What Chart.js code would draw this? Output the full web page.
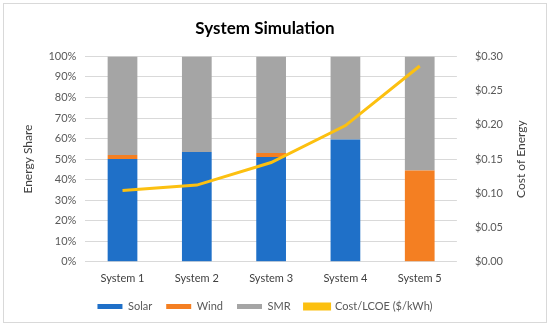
<!DOCTYPE html>
<html>
<head>
<meta charset="utf-8">
<script src="https://cdn.jsdelivr.net/npm/chart.js@4/dist/chart.umd.min.js"></script>
<style>
  html, body { margin: 0; padding: 0; background: #fff; }
  #wrap { position: absolute; left: 3px; top: 3px; width: 542px; height: 318px; border: 1px solid #d9d9d9; background: #fff; }
  canvas { position: absolute; left: -4px; top: -4px; }
</style>
</head>
<body>
<div id="wrap"><canvas id="chart" width="550" height="329"></canvas></div>
<script>
// Chart data
const systems = ['System 1', 'System 2', 'System 3', 'System 4', 'System 5'];
const solar = [50, 53.5, 51, 59.5, 0];
const wind = [2, 0, 2, 0, 44.5];
const smr = [48, 46.5, 47, 40.5, 55.5];
const lcoe = [0.104, 0.112, 0.145, 0.199, 0.286];

const shareTicks = [0, 10, 20, 30, 40, 50, 60, 70, 80, 90, 100];
const costTicks = [0, 0.05, 0.10, 0.15, 0.20, 0.25, 0.30];

const fontFamily = 'Lato, "Open Sans", sans-serif';
const tickColor = '#595959';

// right axis title reads bottom-to-top in the original, so draw it by hand
const rightTitle = {
    id: 'rightTitle',
    afterDraw(chart) {
        const c = chart.ctx;
        const area = chart.chartArea;
        c.save();
        c.translate(521, (area.top + area.bottom) / 2);
        c.rotate(-Math.PI / 2);
        c.fillStyle = '#404040';
        c.font = '12px ' + fontFamily;
        c.textAlign = 'center';
        c.textBaseline = 'middle';
        c.fillText('Cost of Energy', 0, 0);
        c.restore();
    }
};

const ctx = document.getElementById('chart').getContext('2d');
new Chart(ctx, {
    data: {
        labels: systems,
        datasets: [
            { type: 'bar', label: 'Solar', data: solar, backgroundColor: '#1f70c8', yAxisID: 'y', order: 1 },
            { type: 'bar', label: 'Wind', data: wind, backgroundColor: '#f47f22', yAxisID: 'y', order: 1 },
            { type: 'bar', label: 'SMR', data: smr, backgroundColor: '#a5a5a5', yAxisID: 'y', order: 1 },
            {
                type: 'line', label: 'Cost/LCOE ($/kWh)', data: lcoe,
                borderColor: '#fcc010', backgroundColor: '#fcc010',
                borderWidth: 3, pointRadius: 0, tension: 0, yAxisID: 'y1', order: 0
            }
        ]
    },
    options: {
        responsive: false,
        animation: false,
        datasets: { bar: { categoryPercentage: 0.8, barPercentage: 0.5 } },
        layout: { padding: { left: 17, right: 37, top: 8, bottom: 7 } },
        plugins: {
            title: {
                display: true, text: 'System Simulation', color: '#000',
                font: { family: fontFamily, size: 17, weight: 'bold' },
                padding: { top: 10, bottom: 18 }
            },
            legend: {
                position: 'bottom',
                labels: {
                    color: tickColor, boxWidth: 25, boxHeight: 5, padding: 14,
                    font: { family: fontFamily, size: 11 },
                    sort: (a, b) => a.datasetIndex - b.datasetIndex
                }
            },
            tooltip: { enabled: false }
        },
        scales: {
            x: {
                stacked: true,
                grid: { display: false },
                border: { display: false },
                ticks: { color: '#404040', font: { family: fontFamily, size: 11 }, padding: 2 }
            },
            y: {
                stacked: true, position: 'left', min: 0, max: 100,
                afterBuildTicks: axis => { axis.ticks = shareTicks.map(v => ({ value: v })); },
                ticks: { color: tickColor, font: { family: fontFamily, size: 11 }, padding: 9, callback: v => v + '%' },
                grid: { color: '#d9d9d9', drawTicks: false },
                border: { display: false },
                title: { display: true, text: 'Energy Share', color: '#404040', font: { family: fontFamily, size: 12 } }
            },
            y1: {
                position: 'right', min: 0, max: 0.30,
                afterBuildTicks: axis => { axis.ticks = costTicks.map(v => ({ value: v })); },
                ticks: { color: tickColor, font: { family: fontFamily, size: 11 }, padding: 10, callback: v => '$' + v.toFixed(2) },
                grid: { display: false },
                border: { display: false }
            }
        }
    },
    plugins: [rightTitle]
});
</script>
</body>
</html>
